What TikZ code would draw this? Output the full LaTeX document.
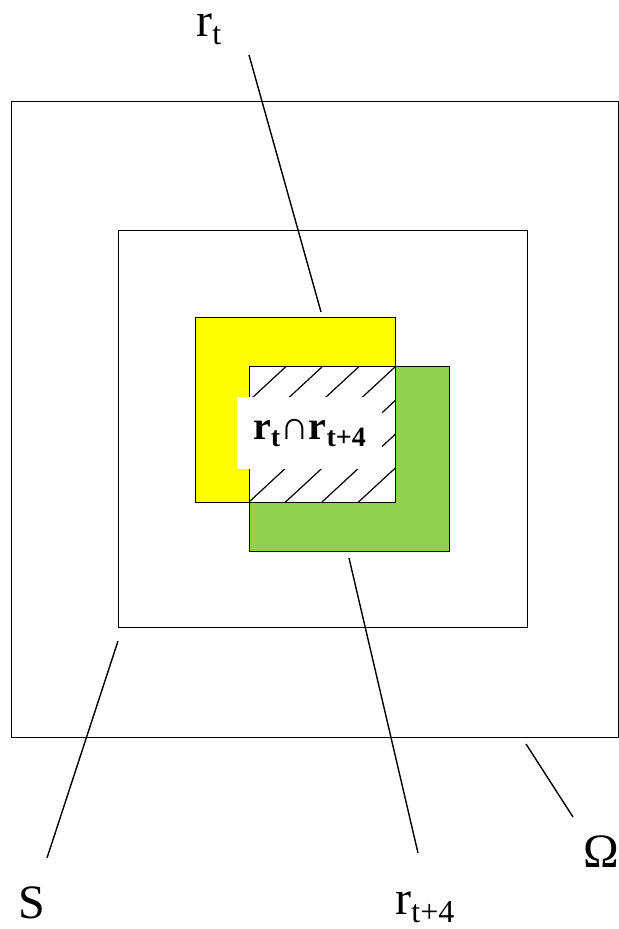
\documentclass[tikz,border=0pt]{standalone}
\usepackage{fontspec}
\setmainfont{Liberation Serif}
\usetikzlibrary{positioning}
\definecolor{regyellow}{HTML}{FFFF00}
\definecolor{reggreen}{HTML}{92D050}
\newcommand{\lowsub}[1]{\raisebox{-4pt}{\fontsize{16}{16}\selectfont #1}}
\newcommand{\boldsub}[1]{\raisebox{-3.5pt}{\fontsize{14}{14}\selectfont #1}}

\begin{document}
\begin{tikzpicture}[x=0.5pt, y=-0.5pt,
  frame/.style={draw=black, line width=0.5pt},
  leader/.style={draw=black, line width=0.7pt},
  hatch/.style={draw=black, line width=0.6pt},
  tag/.style={font=\fontsize{24}{26}\selectfont, inner sep=0pt, anchor=base west},
  meet/.style={fill=white, inner sep=0pt, minimum width=72.5pt, minimum height=36pt,
               font=\bfseries\fontsize{20}{22}\selectfont},
]
  \useasboundingbox (0,0) rectangle (619,929);

  % Regions ---------------------------------------------------------------
  \fill[regyellow] (195,318) rectangle (395,502);
  \fill[reggreen] (249,367) rectangle (449,551);
  \fill[white] (249,367) rectangle (395,502);
  \begin{scope}
    \clip (249,367) rectangle (395,502);
    \foreach \k in {-4,...,4}
      \draw[hatch] (249+\k*36.5,502) -- (395+\k*36.5,367);
  \end{scope}
  \draw[frame] (11,102) rectangle (618,737);
  \draw[frame] (118,231) rectangle (527,627);
  \draw[frame] (195,318) rectangle (395,502);
  \draw[frame] (249,367) rectangle (449,551);
  \node[meet] (meet) at (309.5,433) {r\boldsub{t}∩r\boldsub{t+4}};

  % Labels ----------------------------------------------------------------
  \node[tag] (rt) at (196,37) {r\lowsub{t}};
  \node[tag] (rtf) at (395,914) {r\lowsub{t+4}};
  \node[tag] (sset) at (18,918) {S};
  \node[tag] (omega) at (583,867) {Ω};

  % Leader lines ----------------------------------------------------------
  \coordinate (rta) at (249,55);
  \coordinate (rtb) at (321,312);
  \coordinate (rtfa) at (349,558);
  \coordinate (rtfb) at (418,853);
  \coordinate (sa) at (118,641);
  \coordinate (sb) at (47,858);
  \coordinate (oma) at (526,744);
  \coordinate (omb) at (573,817);
  \draw[leader] (rta) -- (rtb);
  \draw[leader] (rtfa) -- (rtfb);
  \draw[leader] (sa) -- (sb);
  \draw[leader] (oma) -- (omb);
\end{tikzpicture}
\end{document}
